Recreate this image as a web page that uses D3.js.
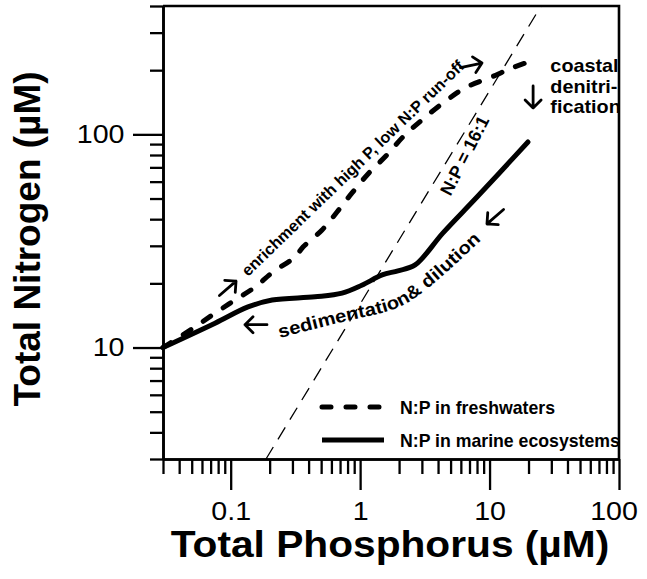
<!DOCTYPE html>
<html><head><meta charset="utf-8">
<script src="https://cdn.jsdelivr.net/npm/d3@7/dist/d3.min.js"></script>
<style>
html,body{margin:0;padding:0;background:#fff;}
svg{display:block;font-family:"Liberation Sans",Arial,Helvetica,sans-serif;}
</style></head><body>
<svg id="chart" width="647" height="579"></svg>
<script>
// ---- data ----
const freshP = [0.03, 0.0511, 0.0757, 0.108, 0.154, 0.212, 0.314, 0.362, 0.508, 0.663, 0.866, 1.17, 1.61, 2.14, 3.01, 4.69, 6.69, 10.4, 14.9, 19.8];
const freshN = [10, 12.3, 14.5, 16.7, 19.2, 22.6, 26.6, 29.6, 35.6, 43.2, 53.1, 65.9, 80.0, 97.2, 117, 145, 167, 186, 205, 218];
const marineP = [0.03, 0.0757, 0.136, 0.209, 0.448, 0.725, 1.03, 1.48, 1.96, 2.66, 4.37, 8.00, 19.8];
const marineN = [10, 13.0, 15.5, 16.7, 17.3, 18.0, 19.6, 21.9, 22.9, 24.4, 34.5, 50.8, 92.1];
const ratioP = [0.1875, 25];
const ratioN = [3, 400];
const ratioLabel = "N:P = 16:1";

const xMajorTicks = [0.1, 1, 10, 100];
const xTickLabels = ["0.1", "1", "10", "100"];
const xMinorTicks = [0.03,0.04,0.05,0.06,0.07,0.08,0.09, 0.2,0.3,0.4,0.5,0.6,0.7,0.8,0.9, 2,3,4,5,6,7,8,9, 20,30,40,50,60,70,80,90];
const yMajorTicks = [10, 100];
const yTickLabels = ["10", "100"];
const yMinorTicks = [3,4,5,6,7,8,9, 20,30,40,50,60,70,80,90, 200,300,400];
const xTitle = "Total Phosphorus (\u00b5M)";
const yTitle = "Total Nitrogen (\u00b5M)";
const legendLabels = ["N:P in freshwaters", "N:P in marine ecosystems"];

// annotation anchors in data units (P, N)
const enrichText = "enrichment with high P, low N:P run-off";
const enrichAnchor = [0.136, 21.4];
const ratioAnchor = [5.0, 51.0];
const sedText = "sedimentation& dilution";
const sedPathP = [0.2405, 0.699, 1.96, 3.35, 8.9];
const sedPathN = [11.1, 13.1, 15.4, 19.0, 32.5];
const coastalLines = ["coastal", "denitri-", "fication"];
const coastalAnchor = [29.5, 196];
// arrows: tip position (P, N), direction angle (deg)
const arrowP = [0.110, 0.129, 8.74, 21.7, 9.55];
const arrowN = [20.5, 12.8, 216, 133, 38];
const arrowAngle = [-41, 180, -12, 90, 139];

// ---- scales ----
const svg = d3.select("#chart");
const x = d3.scaleLog().domain([0.03, 100]).range([163, 619]);
const y = d3.scaleLog().domain([3, 400]).range([459, 6]);
const SX = 1.1; // horizontal stretch of the scanned lettering

const defs = svg.append("defs");
defs.append("clipPath").attr("id","plotclip").append("rect")
  .attr("x", x(0.03)).attr("y", y(400)).attr("width", x(100)-x(0.03)).attr("height", y(3)-y(400));

const line = d3.line().x(d => x(d[0])).y(d => y(d[1])).curve(d3.curveCatmullRom.alpha(0.5));
const straight = d3.line().x(d => x(d[0])).y(d => y(d[1]));

// 16:1 line
svg.append("path").datum(ratioP.map((p,i)=>[p, ratioN[i]]))
  .attr("d", straight).attr("fill","none").attr("stroke","#000")
  .attr("stroke-width",1.3).attr("stroke-dasharray","14,9");

// freshwater line
svg.append("path").datum(freshP.map((p,i)=>[p, freshN[i]]))
  .attr("d", line).attr("fill","none").attr("stroke","#000")
  .attr("stroke-width",5).attr("stroke-linecap","round").attr("stroke-dasharray","9,15");

// marine line
svg.append("path").datum(marineP.map((p,i)=>[p, marineN[i]]))
  .attr("d", line).attr("fill","none").attr("stroke","#000")
  .attr("stroke-width",5).attr("stroke-linecap","round").attr("stroke-linejoin","round");

// arrows
const arrowShape = "M-22,0L0,0M-8,-8L0,0L-8,8";
arrowP.forEach((p,i) => {
  svg.append("path").attr("d", arrowShape)
    .attr("transform", `translate(${x(p)},${y(arrowN[i])}) rotate(${arrowAngle[i]})`)
    .attr("fill","none").attr("stroke","#000").attr("stroke-width",2.8)
    .attr("stroke-linecap","round").attr("stroke-linejoin","round");
});

// annotation texts
svg.append("text").text(enrichText)
  .attr("transform", `translate(${x(enrichAnchor[0])},${y(enrichAnchor[1])}) rotate(-44)`)
  .attr("font-size",16).attr("font-weight","bold").attr("textLength",302).attr("lengthAdjust","spacingAndGlyphs");

svg.append("text").text(ratioLabel)
  .attr("transform", `translate(${x(ratioAnchor[0])},${y(ratioAnchor[1])}) rotate(-63)`)
  .attr("font-size",18).attr("font-weight","bold").attr("textLength",86).attr("lengthAdjust","spacingAndGlyphs");

const sp = defs.append("path").attr("id","sedpath")
  .attr("d", line(sedPathP.map((p,i)=>[p, sedPathN[i]])));
const sedLen = sp.node().getTotalLength();
svg.append("text").attr("font-size",18).attr("font-weight","bold")
  .append("textPath").attr("href","#sedpath")
  .attr("textLength", sedLen*0.99).attr("lengthAdjust","spacingAndGlyphs").text(sedText);

const ct = svg.append("g").attr("clip-path","url(#plotclip)")
  .append("text")
  .attr("transform", `translate(${x(coastalAnchor[0])},${y(coastalAnchor[1])}) scale(${SX},1)`)
  .attr("font-size",18).attr("font-weight","bold");
coastalLines.forEach((s,i) => {
  ct.append("tspan").attr("x", 0).attr("y", 0).attr("dy", (i*1.15)+"em").text(s);
});

// legend
const legendY = [407, 440];
const lg = svg.append("g");
lg.append("line").attr("x1",322).attr("x2",384).attr("y1",legendY[0]).attr("y2",legendY[0])
  .attr("stroke","#000").attr("stroke-width",5).attr("stroke-linecap","round").attr("stroke-dasharray","9,15");
lg.append("line").attr("x1",322).attr("x2",384).attr("y1",legendY[1]).attr("y2",legendY[1])
  .attr("stroke","#000").attr("stroke-width",5);
legendLabels.forEach((s,i) => {
  lg.append("text").attr("x",400).attr("y",legendY[i]+7).attr("font-size",17.7).attr("font-weight","bold").text(s);
});

// ---- axes ----
function styleAxis(g){
  g.selectAll(".domain").attr("stroke","#000").attr("stroke-width",2.6);
  g.selectAll(".tick line").attr("stroke","#000").attr("stroke-width",2.3);
  g.selectAll(".tick text").attr("fill","#000").attr("font-size",26)
    .attr("font-family",'"Liberation Sans",Arial,sans-serif');
}
const gyMin = svg.append("g").attr("transform",`translate(${x(0.03)},0)`)
  .call(d3.axisLeft(y).tickValues(yMinorTicks).tickSize(13).tickSizeOuter(0).tickFormat(""));
const gyMaj = svg.append("g").attr("transform",`translate(${x(0.03)},0)`)
  .call(d3.axisLeft(y).tickValues(yMajorTicks).tickSize(30).tickSizeOuter(0).tickPadding(5)
    .tickFormat((d,i)=>yTickLabels[i]));
const gxMin = svg.append("g").attr("transform",`translate(0,${y(3)})`)
  .call(d3.axisBottom(x).tickValues(xMinorTicks).tickSize(15).tickSizeOuter(0).tickFormat(""));
const gxMaj = svg.append("g").attr("transform",`translate(0,${y(3)})`)
  .call(d3.axisBottom(x).tickValues(xMajorTicks).tickSize(31).tickSizeOuter(0).tickPadding(12)
    .tickFormat((d,i)=>xTickLabels[i]));
[gyMin,gyMaj,gxMin,gxMaj].forEach(styleAxis);
gyMaj.selectAll(".tick text").attr("transform",`scale(${SX},1)`);
gxMaj.selectAll(".tick text").attr("transform",`scale(${SX},1)`);
gxMaj.selectAll(".tick text").filter(d => d === 100).attr("dx", -5);

// frame top & right
svg.append("path")
  .attr("d", `M${x(0.03)},${y(400)}H${x(100)}V${y(3)}`)
  .attr("fill","none").attr("stroke","#000").attr("stroke-width",2.6);

// titles
svg.append("text").text(xTitle)
  .attr("transform", `translate(390,557) scale(${SX},1)`)
  .attr("text-anchor","middle").attr("font-size",37).attr("font-weight","bold");
svg.append("text").text(yTitle)
  .attr("transform","translate(40,239) rotate(-90)")
  .attr("text-anchor","middle").attr("font-size",37).attr("font-weight","bold");
</script>
</body></html>
